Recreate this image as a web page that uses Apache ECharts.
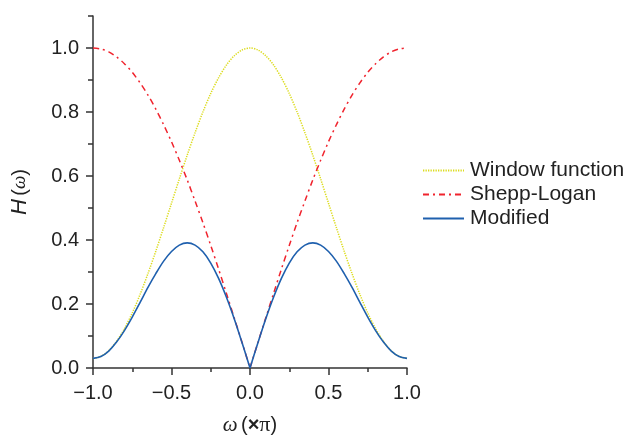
<!DOCTYPE html>
<html>
<head>
<meta charset="utf-8">
<script src="https://cdn.jsdelivr.net/npm/echarts@6/dist/echarts.min.js"></script>
<style>
  html, body { margin: 0; padding: 0; background: #fff; }
  #chart { width: 627px; height: 436px; }
</style>
</head>
<body>
<div id="chart"></div>
<script>
  // omega (x pi), step 0.05
  var omega = [-1.00, -0.95, -0.90, -0.85, -0.80, -0.75, -0.70, -0.65, -0.60, -0.55,
    -0.50, -0.45, -0.40, -0.35, -0.30, -0.25, -0.20, -0.15, -0.10, -0.05,
    0.00, 0.05, 0.10, 0.15, 0.20, 0.25, 0.30, 0.35, 0.40, 0.45,
    0.50, 0.55, 0.60, 0.65, 0.70, 0.75, 0.80, 0.85, 0.90, 0.95, 1.00];

  var windowFunction = [0.030, 0.036, 0.054, 0.083, 0.123, 0.172, 0.230, 0.295, 0.365, 0.439,
    0.515, 0.591, 0.665, 0.735, 0.800, 0.858, 0.907, 0.947, 0.976, 0.994,
    1.000, 0.994, 0.976, 0.947, 0.907, 0.858, 0.800, 0.735, 0.665, 0.591,
    0.515, 0.439, 0.365, 0.295, 0.230, 0.172, 0.123, 0.083, 0.054, 0.036, 0.030];

  var sheppLogan = [1.000, 0.997, 0.988, 0.972, 0.951, 0.924, 0.891, 0.853, 0.809, 0.760,
    0.707, 0.649, 0.588, 0.522, 0.454, 0.383, 0.309, 0.233, 0.156, 0.079,
    0.000, 0.079, 0.156, 0.233, 0.309, 0.383, 0.454, 0.522, 0.588, 0.649,
    0.707, 0.760, 0.809, 0.853, 0.891, 0.924, 0.951, 0.972, 0.988, 0.997, 1.000];

  var modified = [0.030, 0.036, 0.053, 0.081, 0.117, 0.159, 0.205, 0.252, 0.295, 0.334,
    0.364, 0.384, 0.391, 0.384, 0.363, 0.328, 0.280, 0.221, 0.153, 0.078,
    0.000, 0.078, 0.153, 0.221, 0.280, 0.328, 0.363, 0.384, 0.391, 0.384,
    0.364, 0.334, 0.295, 0.252, 0.205, 0.159, 0.117, 0.081, 0.053, 0.036, 0.030];

  var seriesNames = ['Window function', 'Shepp-Logan', 'Modified'];
  var yMajorTicks = [0, 0.2, 0.4, 0.6, 0.8, 1.0];

  // index of omega = 0, where Shepp-Logan and Modified have a sharp corner
  var mid = omega.indexOf(0);

  function pairs(ys, from, to) {
    var out = [];
    for (var i = from; i <= to; i++) out.push([omega[i], ys[i]]);
    return out;
  }

  function fmt(v) {
    var s = Math.abs(v).toFixed(1);
    return v < -1e-9 ? '\u2212' + s : s;
  }

  function lineSeries(name, data, color, lineType, width) {
    return {
      name: name,
      type: 'line',
      symbol: 'none',
      smooth: 0.3,
      data: data,
      lineStyle: { color: color, width: width, type: lineType },
      itemStyle: { color: color }
    };
  }

  var axisColor = '#333';
  var labelFont = { fontFamily: 'Liberation Sans', fontSize: 20, color: '#222' };
  var last = omega.length - 1;

  var chart = echarts.init(document.getElementById('chart'));
  var option = {
    animation: false,
    grid: { left: 93, right: 220, top: 16, bottom: 68, containLabel: false, outerBoundsMode: 'none' },
    legend: {
      left: 417,
      top: 155,
      orient: 'vertical',
      itemWidth: 41,
      itemHeight: 14,
      itemGap: 3,
      itemStyle: { opacity: 0 },
      textStyle: { fontFamily: 'Liberation Sans', fontSize: 21, lineHeight: 21, color: '#222', padding: [0, 0, 0, 1] },
      data: seriesNames
    },
    xAxis: {
      type: 'value',
      min: -1,
      max: 1,
      interval: 0.5,
      name: '{w|ω} {n|(}{x|×}{p|π}{n|)}',
      nameLocation: 'middle',
      nameGap: 46,
      nameTextStyle: {
        rich: {
          w: { fontFamily: 'Liberation Serif', fontStyle: 'italic', fontSize: 21, color: '#222' },
          n: { fontFamily: 'Liberation Sans', fontSize: 20, color: '#222' },
          x: { fontFamily: 'Liberation Sans', fontWeight: 'bold', fontSize: 20, color: '#222' },
          p: { fontFamily: 'Liberation Serif', fontSize: 22, color: '#222' }
        }
      },
      axisLine: { onZero: false, lineStyle: { color: axisColor, width: 1.5 } },
      axisTick: { length: 7, lineStyle: { color: axisColor, width: 1.5 } },
      minorTick: { show: true, splitNumber: 2, length: 4, lineStyle: { color: axisColor, width: 1.5 } },
      axisLabel: Object.assign({ margin: 15, formatter: fmt }, labelFont),
      splitLine: { show: false },
      minorSplitLine: { show: false }
    },
    yAxis: [{
      type: 'value',
      min: 0,
      max: 1.1,
      interval: 0.1,
      name: '{h|H} {n|(}{w|ω}{n|)}',
      nameLocation: 'middle',
      nameGap: 62,
      nameRotate: 90,
      nameTextStyle: {
        rich: {
          h: { fontFamily: 'Liberation Sans', fontStyle: 'italic', fontSize: 22, color: '#222' },
          n: { fontFamily: 'Liberation Sans', fontSize: 20, color: '#222' },
          w: { fontFamily: 'Liberation Serif', fontStyle: 'italic', fontSize: 19, color: '#222' }
        }
      },
      axisLine: { show: true, onZero: false, lineStyle: { color: axisColor, width: 1.5 } },
      axisTick: { show: true, length: 5, lineStyle: { color: axisColor, width: 1.5 } },
      axisLabel: Object.assign({
        margin: 14,
        formatter: function (v) {
          var k = Math.round(v * 10);
          return (k % 2 === 0 && k <= 10) ? fmt(v) : '';
        }
      }, labelFont),
      splitLine: { show: false }
    }, {
      type: 'value',
      position: 'left',
      min: 0,
      max: 1.1,
      interval: 0.2,
      axisLine: { show: false, onZero: false },
      axisTick: { show: true, length: 7, customValues: yMajorTicks, lineStyle: { color: axisColor, width: 1.5 } },
      axisLabel: { show: false },
      splitLine: { show: false }
    }],
    series: [
      lineSeries(seriesNames[0], pairs(windowFunction, 0, last), '#dcdc1e', [1.3, 1.2], 1.5),
      // split at omega = 0 so the corner stays sharp
      lineSeries(seriesNames[1], pairs(sheppLogan, 0, mid), '#f0232d', [6, 4, 2, 4], 1.5),
      lineSeries(seriesNames[1], pairs(sheppLogan, mid, last), '#f0232d', [6, 4, 2, 4], 1.5),
      lineSeries(seriesNames[2], pairs(modified, 0, mid), '#1f60ae', 'solid', 1.6),
      lineSeries(seriesNames[2], pairs(modified, mid, last), '#1f60ae', 'solid', 1.6)
    ]
  };
  chart.setOption(option);
  window.addEventListener('resize', function () { chart.resize(); });
</script>
</body>
</html>
